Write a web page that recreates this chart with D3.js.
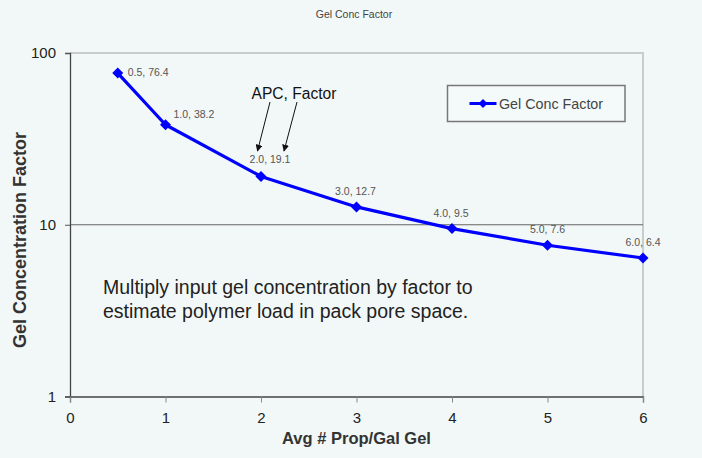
<!DOCTYPE html>
<html>
<head>
<meta charset="utf-8">
<script src="https://cdn.jsdelivr.net/npm/d3@7"></script>
<style>
  html, body { margin: 0; padding: 0; background: #f2f8f7; }
  svg { display: block; font-family: "Liberation Sans", Arial, sans-serif; }
</style>
</head>
<body>
<svg id="chart" width="702" height="458"></svg>
<script>
// Average proppant count per gallon of gel vs. concentration factor
const apc = [0.5, 1.0, 2.0, 3.0, 4.0, 5.0, 6.0];
const factor = [76.4, 38.2, 19.1, 12.7, 9.5, 7.6, 6.4];
const xTickValues = [0, 1, 2, 3, 4, 5, 6];
const yTickValues = [1, 10, 100];
const seriesName = "Gel Conc Factor";
const chartTitle = "Gel Conc Factor";
const xTitle = "Avg # Prop/Gal Gel";
const yTitle = "Gel Concentration Factor";
const noteLines = [
  "Multiply input gel concentration by factor to",
  "estimate polymer load in pack pore space."
];
const calloutText = "APC, Factor";

// where each point label sits relative to its marker
const labelPlacement = [
  { anchor: "start", dx: 10, dy: 3 },
  { anchor: "start", dx: 8, dy: -7 },
  { anchor: "middle", dx: 9, dy: -13 },
  { anchor: "middle", dx: -1, dy: -12 },
  { anchor: "middle", dx: -1, dy: -12 },
  { anchor: "middle", dx: 0, dy: -12 },
  { anchor: "middle", dx: 0, dy: -12 }
];

const svg = d3.select("#chart");
const plot = { left: 70, right: 643, top: 53, bottom: 396.5 };

const x = d3.scaleLinear().domain([0, 6]).range([plot.left, plot.right]);
const y = d3.scaleLog().domain([1, 100]).range([plot.bottom, plot.top]);

// chart title
svg.append("text")
  .attr("x", 354).attr("y", 18)
  .attr("text-anchor", "middle")
  .attr("font-size", 10.5)
  .attr("fill", "#444")
  .text(chartTitle);

// plot frame: light top and right edges
svg.append("path")
  .attr("d", `M${plot.left},${plot.top}H${plot.right}V${plot.bottom}`)
  .attr("fill", "none")
  .attr("stroke", "#c9cccc")
  .attr("stroke-width", 2);

// major gridline at 10
svg.append("g")
  .selectAll("line")
  .data(yTickValues.filter(d => d > 1 && d < 100))
  .join("line")
  .attr("x1", plot.left).attr("x2", plot.right)
  .attr("y1", d => y(d)).attr("y2", d => y(d))
  .attr("stroke", "#666")
  .attr("stroke-width", 1.2);

// y axis
const yAxis = svg.append("g")
  .attr("transform", `translate(${plot.left},0)`)
  .call(d3.axisLeft(y).tickValues(yTickValues).tickFormat(d3.format("d")).tickSize(5).tickPadding(9));
yAxis.select(".domain").attr("stroke", "#444").attr("stroke-width", 1.3);
yAxis.selectAll(".tick line").attr("stroke", "#555");
yAxis.selectAll(".tick text")
  .attr("font-size", 15).attr("fill", "#222")
  .attr("font-family", "'Liberation Sans', Arial, sans-serif");

// x axis
const xAxis = svg.append("g")
  .attr("transform", `translate(0,${plot.bottom})`)
  .call(d3.axisBottom(x).tickValues(xTickValues).tickFormat(d3.format("d")).tickSize(6).tickPadding(10));
xAxis.select(".domain").attr("stroke", "#444").attr("stroke-width", 1.3);
xAxis.selectAll(".tick line").attr("stroke", "#888");
xAxis.selectAll(".tick text")
  .attr("font-size", 15).attr("fill", "#222")
  .attr("font-family", "'Liberation Sans', Arial, sans-serif");

// axis titles
svg.append("text")
  .attr("x", (plot.left + plot.right) / 2).attr("y", 444)
  .attr("text-anchor", "middle")
  .attr("font-size", 16.5).attr("font-weight", "bold").attr("fill", "#333")
  .text(xTitle);

svg.append("text")
  .attr("transform", `translate(26,${240}) rotate(-90)`)
  .attr("text-anchor", "middle")
  .attr("font-size", 18).attr("font-weight", "bold").attr("fill", "#333")
  .text(yTitle);

// series
const points = apc.map((v, i) => ({ x: v, y: factor[i], i }));
const line = d3.line().x(d => x(d.x)).y(d => y(d.y));

svg.append("path")
  .datum(points)
  .attr("d", line)
  .attr("fill", "none")
  .attr("stroke", "#0000ff")
  .attr("stroke-width", 3.2)
  .attr("stroke-linejoin", "round");

const diamond = r => `M0,${-r}L${r},0L0,${r}L${-r},0Z`;
svg.append("g")
  .selectAll("path")
  .data(points)
  .join("path")
  .attr("transform", d => `translate(${x(d.x)},${y(d.y)})`)
  .attr("d", diamond(5.5))
  .attr("fill", "#0000ff");

// point labels
svg.append("g")
  .selectAll("text")
  .data(points)
  .join("text")
  .attr("x", d => x(d.x) + labelPlacement[d.i].dx)
  .attr("y", d => y(d.y) + labelPlacement[d.i].dy)
  .attr("text-anchor", d => labelPlacement[d.i].anchor)
  .attr("font-size", 10.5)
  .attr("fill", "#555")
  .text(d => `${d.x.toFixed(1)}, ${d.y}`);

// callout with arrows pointing at the label parts
svg.append("text")
  .attr("x", 251.5).attr("y", 98.5)
  .attr("font-size", 15.6).attr("fill", "#111")
  .text(calloutText);

const defs = svg.append("defs");
defs.append("marker")
  .attr("id", "arrowhead")
  .attr("viewBox", "0 0 10 10")
  .attr("refX", 9).attr("refY", 5)
  .attr("markerWidth", 7).attr("markerHeight", 7)
  .attr("markerUnits", "userSpaceOnUse")
  .attr("orient", "auto")
  .append("path")
  .attr("d", "M0,0L10,5L0,10Z")
  .attr("fill", "#111");

const arrows = [
  [[270, 102], [257.5, 151]],
  [[297, 102], [284, 151]]
];
svg.append("g")
  .selectAll("line")
  .data(arrows)
  .join("line")
  .attr("x1", d => d[0][0]).attr("y1", d => d[0][1])
  .attr("x2", d => d[1][0]).attr("y2", d => d[1][1])
  .attr("stroke", "#111")
  .attr("stroke-width", 1)
  .attr("marker-end", "url(#arrowhead)");

// note
svg.append("g")
  .selectAll("text")
  .data(noteLines)
  .join("text")
  .attr("x", 103)
  .attr("y", (d, i) => 294 + i * 24)
  .attr("font-size", 19.5)
  .attr("fill", "#222")
  .text(d => d);

// legend
const legend = svg.append("g").attr("transform", "translate(447.5,85.5)");
legend.append("rect")
  .attr("width", 177.5).attr("height", 36)
  .attr("fill", "#f4faf9")
  .attr("stroke", "#777")
  .attr("stroke-width", 1.5);
legend.append("line")
  .attr("x1", 22).attr("x2", 49)
  .attr("y1", 18).attr("y2", 18)
  .attr("stroke", "#0000ff").attr("stroke-width", 3);
legend.append("path")
  .attr("transform", "translate(35.5,18)")
  .attr("d", diamond(4.5))
  .attr("fill", "#0000ff");
legend.append("text")
  .attr("x", 51.5).attr("y", 23)
  .attr("font-size", 14.3)
  .attr("fill", "#444")
  .text(seriesName);
</script>
</body>
</html>
